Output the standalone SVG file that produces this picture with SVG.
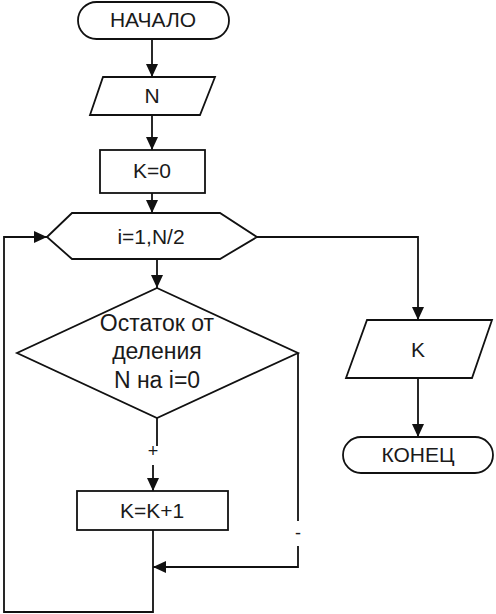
<svg xmlns="http://www.w3.org/2000/svg" width="496" height="614" viewBox="0 0 496 614">
<style>
.s{fill:#fff;stroke:#111;stroke-width:1.8}
.c{fill:none;stroke:#111;stroke-width:1.8}
text{font-family:"Liberation Sans",Arial,sans-serif;font-size:21px;fill:#1a1a1a;text-anchor:middle}
.lbl{font-size:18px}
.big{font-size:23px}
</style>
<defs>
<marker id="ah" viewBox="0 0 13 12" refX="13" refY="6" markerWidth="13" markerHeight="12" markerUnits="userSpaceOnUse" orient="auto">
<path d="M0,0 L13,6 L0,12 z" fill="#111"/>
</marker>
</defs>
<rect width="496" height="614" fill="#fff"/>
<g id="connectors">
<path class="c" d="M152,39 V77" marker-end="url(#ah)"/>
<path class="c" d="M152,115 V150" marker-end="url(#ah)"/>
<path class="c" d="M152,193 V213" marker-end="url(#ah)"/>
<path class="c" d="M157,259 V288" marker-end="url(#ah)"/>
<path class="c" d="M157,418 V446"/>
<path class="c" d="M153,465 V491" marker-end="url(#ah)"/>
<path class="c" d="M153,530 V612 H4 V237 H47" marker-end="url(#ah)"/>
<path class="c" d="M298,353 V521"/>
<path class="c" d="M298,546 V567 H153" marker-end="url(#ah)"/>
<path class="c" d="M257,237 H418 V320" marker-end="url(#ah)"/>
<path class="c" d="M418,378 V437" marker-end="url(#ah)"/>
<text class="lbl" x="153" y="457">+</text>
<text class="lbl" x="298" y="539">-</text>
</g>
<g id="start">
<rect class="s" x="78" y="2" width="151" height="37" rx="18.5"/>
<text x="153" y="27">НАЧАЛО</text>
</g>
<g id="inputN">
<polygon class="s" points="103,77 215,77 200,115 90,115"/>
<text x="152" y="103">N</text>
</g>
<g id="k0">
<rect class="s" x="100" y="150" width="105" height="43"/>
<text x="152" y="178">K=0</text>
</g>
<g id="loop">
<polygon class="s" points="47,237 72,213 220,213 257,237 220,259 72,259"/>
<text x="151" y="244">i=1,N/2</text>
</g>
<g id="cond">
<polygon class="s" points="157,288 298,353 157,418 17,353"/>
<text class="big" x="157" y="331">Остаток от</text>
<text class="big" x="157" y="359">деления</text>
<text class="big" x="157" y="388">N на i=0</text>
</g>
<g id="inc">
<rect class="s" x="77" y="491" width="151" height="39"/>
<text x="152" y="518">K=K+1</text>
</g>
<g id="outK">
<polygon class="s" points="367,320 492,320 472,378 346,378"/>
<text x="418" y="357">K</text>
</g>
<g id="end">
<rect class="s" x="343" y="437" width="150" height="36" rx="18"/>
<text x="418" y="462">КОНЕЦ</text>
</g>
</svg>
